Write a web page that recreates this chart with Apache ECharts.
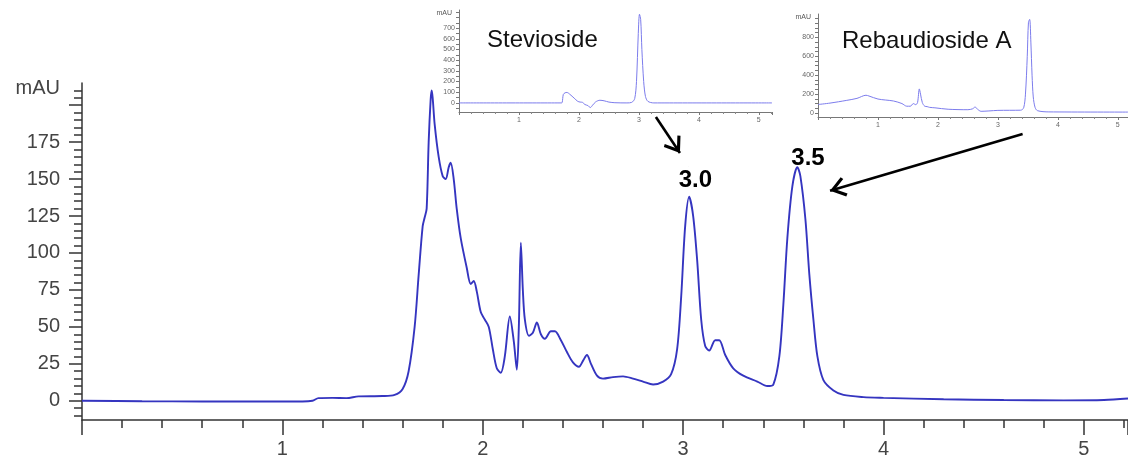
<!DOCTYPE html>
<html>
<head>
<meta charset="utf-8">
<script src="https://cdn.jsdelivr.net/npm/echarts@6/dist/echarts.min.js"></script>
<style>
html,body{margin:0;padding:0;background:#fff;}
#chart{width:1128px;height:464px;}
</style>
</head>
<body>
<div id="chart"></div>
<script>
// 主色谱图 (min, mAU)
var mainTime = [0.00,0.30,0.60,0.90,1.10,1.15,1.18,1.25,1.32,1.38,1.50,1.56,1.60,1.63,1.66,1.68,1.70,1.71,1.72,1.73,1.74,1.745,1.75,1.76,1.78,1.80,1.815,1.83,1.84,1.855,1.87,1.89,1.92,1.94,1.955,1.97,1.99,2.01,2.03,2.05,2.07,2.09,2.11,2.135,2.155,2.17,2.18,2.19,2.20,2.21,2.23,2.25,2.27,2.29,2.31,2.34,2.36,2.39,2.42,2.45,2.48,2.50,2.52,2.54,2.57,2.60,2.65,2.70,2.75,2.80,2.85,2.90,2.94,2.97,2.99,3.01,3.03,3.05,3.07,3.09,3.11,3.13,3.16,3.18,3.21,3.25,3.30,3.37,3.42,3.45,3.48,3.50,3.52,3.545,3.57,3.585,3.61,3.63,3.65,3.67,3.70,3.75,3.80,3.90,4.00,4.30,4.60,4.90,5.10,5.22];
var mainSignal = [0,-0.3,-0.5,-0.5,-0.5,0,1.8,2,1.8,3,3.2,4,8,20,50,85,118,124,130,175,204,210,205,187,165,152,150,158,161,150,130,110,90,79,81,74,60,55,50,35,22,19,30,57,40,21,50,107,75,55,44,46,53,45,42,47,47,41,33,26,23,27,31,25,17,15,16,16.5,15,13,11,13,18,35,70,118,138,125,95,55,37,34,41,41,31,22,17,13,10,11,30,65,110,145,158,152,123,85,55,30,14,7,4,2.5,2,1,0.5,0.3,0.5,1.5];

// 插图: Stevioside
var stevTime = [0,1.70,1.72,1.74,1.77,1.80,1.85,1.92,1.98,2.02,2.06,2.10,2.15,2.19,2.23,2.28,2.35,2.42,2.50,2.60,2.80,2.88,2.93,2.96,2.99,3.01,3.03,3.05,3.08,3.11,3.15,3.25,5.22];
var stevSignal = [0,0,3,80,95,98,80,45,15,8,5,-15,-25,-43,-20,10,25,20,8,2,0,5,40,200,650,830,780,500,200,60,15,0,0];

// 插图: Rebaudioside A
var rebTime = [0,0.2,0.48,0.65,0.80,0.85,1.0,1.26,1.40,1.48,1.54,1.59,1.63,1.66,1.69,1.71,1.74,1.78,1.82,1.86,1.95,2.17,2.50,2.58,2.62,2.66,2.72,2.85,3.0,3.38,3.43,3.46,3.49,3.51,3.53,3.55,3.57,3.59,3.62,3.66,3.85,5.17];
var rebSignal = [90,105,134,155,188,180,148,127,100,72,72,100,88,110,255,200,110,72,68,60,55,40,35,45,64,40,18,22,28,30,55,200,600,960,990,750,400,170,60,25,12,10];

// 刻度
var mainYLabels = [0,25,50,75,100,125,150,175];
var mainYMajor = [0,25,50,75,100,125,150,175,200];
var mainYMinor = [];
for (var v = -10; v <= 210; v += 5) { if (v % 25 !== 0) mainYMinor.push(v); }
var stevYLabels = [0,100,200,300,400,500,600,700];
var stevYTicks = [-50,0,50,100,150,200,250,300,350,400,450,500,550,600,650,700,750,800,850];
var rebYLabels = [0,200,400,600,800];
var rebYTicks = [0,50,100,150,200,250,300,350,400,450,500,550,600,650,700,750,800,850,900,950,1000];

// 标注 (数据坐标)
var peakLabels = [['3.0', 3.061, 149.4], ['3.5', 3.623, 164.3]];
var arrows = [[2.864, 192, 2.984, 167.6], [4.694, 180.5, 3.733, 142.1]];
var insetTitles = ['Stevioside', 'Rebaudioside A'];

function pairs(xs, ys) {
    return xs.map(function (x, i) { return [x, ys[i]]; });
}

var font = 'Liberation Sans, Arial, sans-serif';
var chevron = 'path://M10,0.2 L10.1,0 L9.9,0 Z M10,16 L20,30 L17.6,32 L10,21.4 L2.4,32 L0,30 Z';

var myChart = echarts.init(document.getElementById('chart'));

function insetXAxis(grid, max) {
    return {
        gridIndex: grid, type: 'value', min: 0, max: max, interval: 1,
        axisLine: {show: true, onZero: false, lineStyle: {color: '#777', width: 1}},
        axisTick: {show: true, length: 3, lineStyle: {color: '#777'}},
        minorTick: {show: true, splitNumber: 5, length: 2, lineStyle: {color: '#888'}},
        axisLabel: {fontSize: 7, color: '#666', margin: 5, fontFamily: font, showMinLabel: false, showMaxLabel: false},
        splitLine: {show: false}
    };
}
function insetYAxis(grid, min, max, labels, ticks) {
    return {
        gridIndex: grid, type: 'value', min: min, max: max, position: 'left',
        name: 'mAU', nameLocation: 'end', nameGap: -3,
        nameTextStyle: {fontSize: 7, color: '#555', align: 'right', verticalAlign: 'middle', padding: [0, 7, 0, 0], fontFamily: font},
        axisLine: {show: true, onZero: false, lineStyle: {color: '#777', width: 1}},
        axisTick: {show: true, length: 3, customValues: ticks, lineStyle: {color: '#777'}},
        axisLabel: {fontSize: 7, color: '#666', margin: 4, fontFamily: font, customValues: labels},
        splitLine: {show: false}
    };
}

var option = {
    animation: false,
    backgroundColor: '#fff',
    grid: [
        {left: 82, right: 0, top: 83, bottom: 44, outerBoundsMode: 'none'},
        {left: 459, top: 10, width: 313, height: 102, outerBoundsMode: 'none'},
        {left: 818, top: 14, width: 310, height: 103, outerBoundsMode: 'none'}
    ],
    graphic: [
        {type: 'text', left: 487, top: 28, style: {text: insetTitles[0], font: '24px ' + font, fill: '#111'}},
        {type: 'text', left: 842, top: 29, style: {text: insetTitles[1], font: '24px ' + font, fill: '#111'}}
    ],
    xAxis: [
        {
            gridIndex: 0, type: 'value', min: 0, max: 5.22, interval: 1,
            axisLine: {show: true, onZero: false, lineStyle: {color: '#333', width: 1.5}},
            axisTick: {show: true, length: 15, lineStyle: {color: '#333', width: 1.5}},
            minorTick: {show: true, splitNumber: 5, length: 8, lineStyle: {color: '#333', width: 1.5}},
            axisLabel: {fontSize: 20, color: '#444', margin: 19, fontFamily: font, showMinLabel: false, showMaxLabel: false},
            splitLine: {show: false}
        },
        insetXAxis(1, 5.22),
        insetXAxis(2, 5.17)
    ],
    yAxis: [
        {
            gridIndex: 0, type: 'value', min: -13, max: 215, position: 'left',
            name: 'mAU', nameLocation: 'end', nameGap: -5,
            nameTextStyle: {fontSize: 20, color: '#444', align: 'right', verticalAlign: 'middle', padding: [0, 22, 0, 0], fontFamily: font},
            axisLine: {show: true, onZero: false, lineStyle: {color: '#333', width: 1.5}},
            axisTick: {show: true, length: 13, customValues: mainYMajor, lineStyle: {color: '#333', width: 1.5}},
            axisLabel: {fontSize: 20, color: '#444', margin: 22, fontFamily: font, customValues: mainYLabels},
            splitLine: {show: false}
        },
        {
            gridIndex: 0, type: 'value', min: -13, max: 215, position: 'left', offset: 0,
            axisLine: {show: false},
            axisTick: {show: true, length: 8, customValues: mainYMinor, lineStyle: {color: '#333', width: 1.5}},
            axisLabel: {show: false},
            splitLine: {show: false}
        },
        insetYAxis(1, -85, 870, stevYLabels, stevYTicks),
        insetYAxis(2, -42, 1047, rebYLabels, rebYTicks)
    ],
    series: [
        {
            name: 'sample', type: 'line', xAxisIndex: 0, yAxisIndex: 0,
            data: pairs(mainTime, mainSignal),
            showSymbol: false, symbol: 'none', smooth: 0.3,
            lineStyle: {color: '#3535c0', width: 1.9},
            markPoint: {
                symbol: 'circle', symbolSize: 0, silent: true,
                label: {show: true, position: 'inside', formatter: '{b}', fontSize: 24, fontWeight: 'bold', color: '#000', fontFamily: font},
                data: peakLabels.map(function (p) { return {name: p[0], coord: [p[1], p[2]]}; })
            },
            markLine: {
                silent: true, animation: false,
                symbol: ['none', chevron], symbolSize: [20, 32],
                label: {show: false},
                lineStyle: {color: '#000', width: 2.6, type: 'solid'},
                data: arrows.map(function (a) { return [{coord: [a[0], a[1]]}, {coord: [a[2], a[3]]}]; })
            }
        },
        {
            name: 'Stevioside', type: 'line', xAxisIndex: 1, yAxisIndex: 2,
            data: pairs(stevTime, stevSignal),
            showSymbol: false, symbol: 'none', smooth: 0.3,
            lineStyle: {color: '#7c7cec', width: 1}
        },
        {
            name: 'Rebaudioside A', type: 'line', xAxisIndex: 2, yAxisIndex: 3,
            data: pairs(rebTime, rebSignal),
            showSymbol: false, symbol: 'none', smooth: 0.3,
            lineStyle: {color: '#7c7cec', width: 1}
        }
    ]
};
myChart.setOption(option);
</script>
</body>
</html>
